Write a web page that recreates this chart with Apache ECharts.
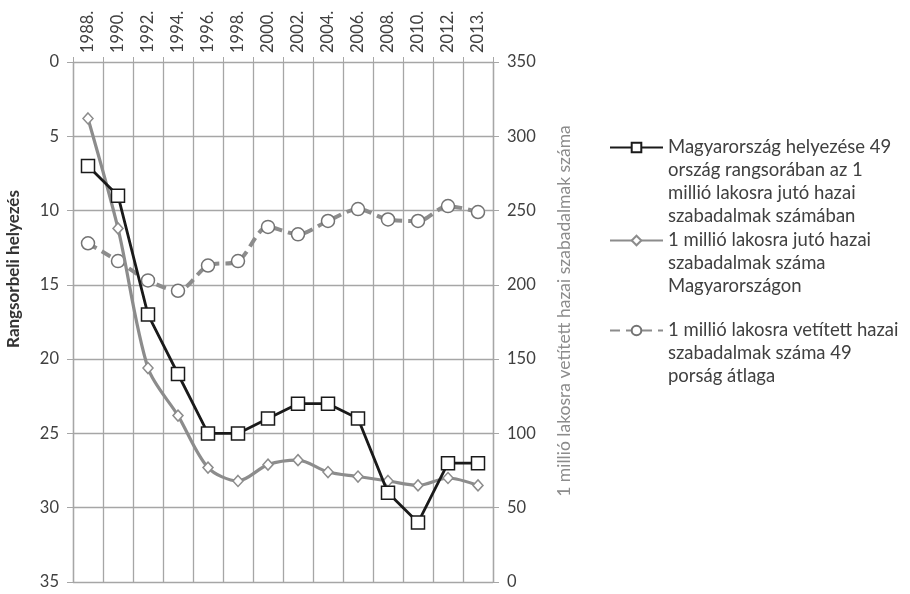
<!DOCTYPE html>
<html>
<head>
<meta charset="utf-8">
<script src="https://cdn.jsdelivr.net/npm/echarts@6/dist/echarts.min.js"></script>
<style>
  html, body { margin: 0; padding: 0; background: #fff; }
  #main { width: 910px; height: 594px; }
</style>
</head>
<body>
<div id="main"></div>
<script>
// evek (felso tengely)
const years = ['1988.', '1990.', '1992.', '1994.', '1996.', '1998.', '2000.',
    '2002.', '2004.', '2006.', '2008.', '2010.', '2012.', '2013.'];

// bal tengely: rangsorbeli helyezes (forditott)
const rankHU = [7, 9, 17, 21, 25, 25, 24, 23, 23, 24, 29, 31, 27, 27];

// jobb tengely: 1 millio lakosra juto szabadalmak
const patentsHU = [312, 238, 144, 112, 77, 68, 79, 82, 74, 71, 68, 65, 70, 65];
const patentsAvg = [228, 216, 203, 196, 213, 216, 239, 234, 243, 251, 244, 243, 253, 249];

const leftTicks = { min: 0, max: 35, interval: 5 };
const rightTicks = { min: 0, max: 350, interval: 50 };

const names = [
    'Magyarország helyezése 49\nország rangsorában az 1\nmillió lakosra jutó hazai\nszabadalmak számában',
    '1 millió lakosra jutó hazai\nszabadalmak száma\nMagyarországon',
    '1 millió lakosra vetített hazai\nszabadalmak száma 49\nporság átlaga'
];

const FONT = 'Lato';
const TXT = '#404040';
const GRID = '#a6a6a6';
const LH = 23;

function legendFor(i, top) {
    // ures sorok elore, hogy az elso sor az ikonnal egy vonalba keruljon
    const n = names[i].split('\n').length;
    return {
        data: [names[i]],
        left: 609,
        top: top,
        orient: 'vertical',
        padding: 0,
        itemWidth: 53,
        itemHeight: 12,
        selectedMode: false,
        formatter: function (name) {
            return '\n'.repeat(n - 1) + name;
        },
        textStyle: {
            fontFamily: FONT,
            fontSize: 18.5,
            color: TXT,
            lineHeight: LH
        }
    };
}

const chart = echarts.init(document.getElementById('main'));

chart.setOption({
    animation: false,
    backgroundColor: '#fff',
    textStyle: { fontFamily: FONT },
    grid: { left: 73, right: 417, top: 62, bottom: 12 },
    legend: [legendFor(0, 67), legendFor(1, 183), legendFor(2, 273)],
    xAxis: {
        type: 'category',
        position: 'top',
        data: years,
        boundaryGap: true,
        axisLine: { show: false },
        axisTick: { show: true, length: 5, lineStyle: { color: GRID } },
        axisLabel: { rotate: 90, fontSize: 16.5, color: TXT, margin: 9, interval: 0 },
        splitLine: { show: true, interval: 0, lineStyle: { color: GRID, width: 1.3 } }
    },
    yAxis: [
        {
            type: 'value',
            inverse: true,
            min: leftTicks.min,
            max: leftTicks.max,
            interval: leftTicks.interval,
            name: 'Rangsorbeli helyezés',
            nameLocation: 'middle',
            nameRotate: 90,
            nameGap: 51,
            nameTextStyle: { fontSize: 17, fontWeight: 'bold', color: '#333', padding: [0, 0, 0, 106] },
            axisLine: { show: true, lineStyle: { color: GRID, width: 1.3 } },
            axisTick: { show: true, length: 6, lineStyle: { color: GRID } },
            axisLabel: { fontSize: 16.5, color: TXT, margin: 14 },
            splitLine: { show: true, lineStyle: { color: GRID, width: 1.3 } }
        },
        {
            type: 'value',
            position: 'right',
            min: rightTicks.min,
            max: rightTicks.max,
            interval: rightTicks.interval,
            name: '1 millió lakosra vetített hazai szabadalmak száma',
            nameLocation: 'middle',
            nameRotate: 90,
            nameGap: 62,
            nameTextStyle: { fontSize: 17.5, color: '#8c8c8c', padding: [0, 0, 0, 22] },
            axisLine: { show: true, lineStyle: { color: GRID, width: 1.3 } },
            axisTick: { show: true, length: 6, lineStyle: { color: GRID } },
            axisLabel: { fontSize: 16.5, color: TXT, margin: 14 },
            splitLine: { show: false }
        }
    ],
    series: [
        {
            name: names[0],
            type: 'line',
            yAxisIndex: 0,
            data: rankHU,
            symbol: 'rect',
            symbolSize: 13,
            z: 5,
            lineStyle: { color: '#1a1a1a', width: 2.8 },
            itemStyle: { color: '#fff', borderColor: '#1a1a1a', borderWidth: 1.5 }
        },
        {
            name: names[1],
            type: 'line',
            yAxisIndex: 1,
            data: patentsHU,
            smooth: 0.3,
            symbol: 'diamond',
            symbolSize: [10, 11],
            z: 4,
            lineStyle: { color: '#8c8c8c', width: 3.2 },
            itemStyle: { color: '#fff', borderColor: '#8c8c8c', borderWidth: 1.5 }
        },
        {
            name: names[2],
            type: 'line',
            yAxisIndex: 1,
            data: patentsAvg,
            smooth: 0.3,
            symbol: 'circle',
            symbolSize: 13,
            z: 3,
            lineStyle: { color: '#8c8c8c', width: 4, type: [10, 6] },
            itemStyle: { color: '#fff', borderColor: '#737373', borderWidth: 1.5 }
        }
    ]
});
</script>
</body>
</html>
